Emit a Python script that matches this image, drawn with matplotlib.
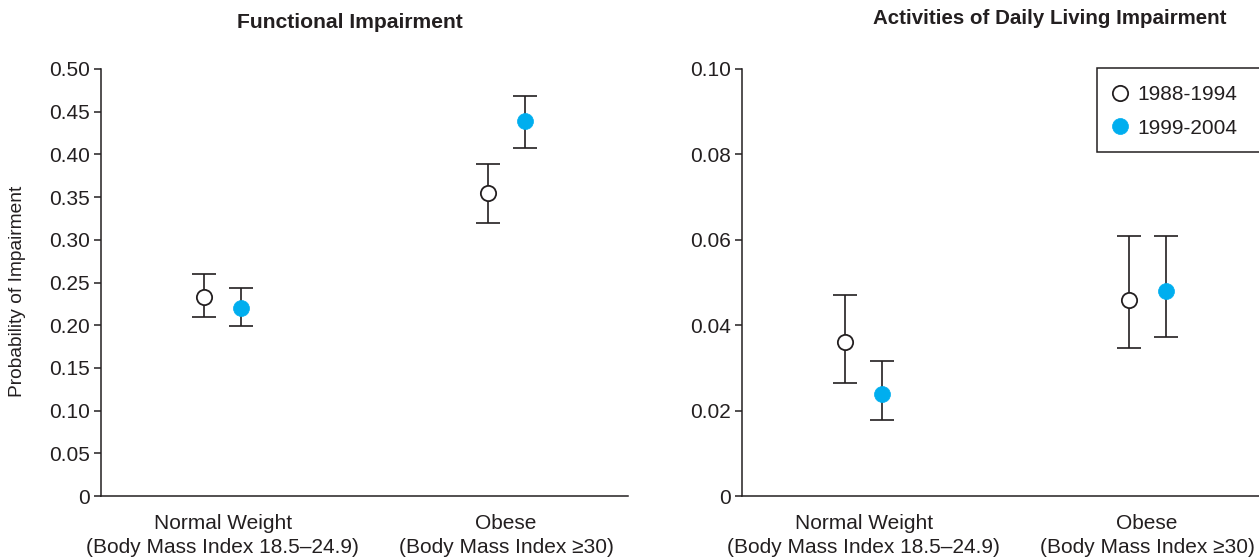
import matplotlib
matplotlib.use("Agg")
import matplotlib.pyplot as plt
from matplotlib.patches import Rectangle
import numpy as np

plt.rcParams['font.family'] = ['Liberation Sans', 'DejaVu Sans']

categories = ["Normal Weight\n(Body Mass Index 18.5–24.9)",
              "Obese\n(Body Mass Index \u226530)"]
series_names = ["1988-1994", "1999-2004"]

# Functional impairment: estimates, lower, upper
func_1988 = [0.233, 0.355]
func_1988_lo = [0.210, 0.320]
func_1988_hi = [0.260, 0.389]
func_1999 = [0.220, 0.439]
func_1999_lo = [0.199, 0.407]
func_1999_hi = [0.243, 0.468]

# ADL impairment
adl_1988 = [0.0361, 0.0459]
adl_1988_lo = [0.0265, 0.0346]
adl_1988_hi = [0.0470, 0.0609]
adl_1999 = [0.0240, 0.0481]
adl_1999_lo = [0.0178, 0.0372]
adl_1999_hi = [0.0317, 0.0609]

func_ticks = [0, 0.05, 0.10, 0.15, 0.20, 0.25, 0.30, 0.35, 0.40, 0.45, 0.50]
func_ticklabels = ["0", "0.05", "0.10", "0.15", "0.20", "0.25", "0.30", "0.35", "0.40", "0.45", "0.50"]
adl_ticks = [0, 0.02, 0.04, 0.06, 0.08, 0.10]
adl_ticklabels = ["0", "0.02", "0.04", "0.06", "0.08", "0.10"]

CYAN = "#00AEEF"
INK = "#231F20"
FS = 15

W, H = 1259, 560
fig = plt.figure(figsize=(W / 100, H / 100), dpi=100)

def px_axes(x0, y0, x1, y1):
    return fig.add_axes([x0 / W, 1 - y1 / H, (x1 - x0) / W, (y1 - y0) / H])

ax1 = px_axes(101, 69, 628, 496)
ax2 = px_axes(742, 69, 1269, 496)

off = 0.065
xpos = np.arange(len(categories))

def draw(ax, s1, s1lo, s1hi, s2, s2lo, s2hi, ticks, ticklabels, ymax):
    s1 = np.array(s1); s2 = np.array(s2)
    e1 = [s1 - np.array(s1lo), np.array(s1hi) - s1]
    e2 = [s2 - np.array(s2lo), np.array(s2hi) - s2]
    ax.errorbar(xpos - off, s1, yerr=e1, fmt='none', ecolor=INK, elinewidth=1.2,
                capsize=8.3, capthick=1.2, zorder=2)
    ax.errorbar(xpos + off, s2, yerr=e2, fmt='none', ecolor=INK, elinewidth=1.2,
                capsize=8.3, capthick=1.2, zorder=2)
    h1, = ax.plot(xpos - off, s1, 'o', ms=11, mfc='white', mec=INK, mew=1.3,
                  linestyle='none', zorder=3, label=series_names[0])
    h2, = ax.plot(xpos + off, s2, 'o', ms=11.5, mfc=CYAN, mec=CYAN, mew=0.5,
                  linestyle='none', zorder=3, label=series_names[1])
    ax.set_xlim(-0.43, 1.43)
    ax.set_ylim(0, ymax)
    ax.set_yticks(ticks)
    ax.set_yticklabels(ticklabels)
    ax.set_xticks(xpos)
    ax.set_xticklabels(categories, linespacing=1.35)
    for s in ['top', 'right']:
        ax.spines[s].set_visible(False)
    for s in ['left', 'bottom']:
        ax.spines[s].set_color(INK)
        ax.spines[s].set_linewidth(1.1)
    ax.tick_params(axis='y', direction='out', length=5, width=1.1, color=INK,
                   labelsize=FS, labelcolor=INK, pad=3)
    ax.tick_params(axis='x', length=0, labelsize=FS, labelcolor=INK, pad=13)
    return h1, h2

draw(ax1, func_1988, func_1988_lo, func_1988_hi, func_1999, func_1999_lo, func_1999_hi,
     func_ticks, func_ticklabels, 0.5)
h1, h2 = draw(ax2, adl_1988, adl_1988_lo, adl_1988_hi, adl_1999, adl_1999_lo, adl_1999_hi,
              adl_ticks, adl_ticklabels, 0.10)

fig.text(18 / W, 1 - 291 / H, "Probability of Impairment", rotation=90,
         ha='center', va='center', fontsize=13.8, color=INK)

fig.text(350 / W, 1 - 22 / H, "Functional Impairment", ha='center', va='center',
         fontsize=15.2, fontweight='bold', color=INK)
fig.text(1050 / W, 1 - 18 / H, "Activities of Daily Living Impairment", ha='center',
         va='center', fontsize=14.8, fontweight='bold', color=INK)

# legend box (extends past right edge, as in the reference)
fig.patches.append(Rectangle((1097 / W, 1 - 152 / H), 180 / W, 84 / H,
                             transform=fig.transFigure, fill=True, facecolor='white',
                             edgecolor=INK, linewidth=1.1, zorder=5))
leg = fig.legend(handles=[h1, h2], loc='upper left',
                 bbox_to_anchor=(1100 / W, 1 - 74 / H), fontsize=FS,
                 frameon=False, handlelength=0.8, handletextpad=0.45,
                 borderpad=0.55, labelspacing=0.68, borderaxespad=0)
leg.set_zorder(6)
for t in leg.get_texts():
    t.set_color(INK)

fig.savefig("out.png", dpi=100)
